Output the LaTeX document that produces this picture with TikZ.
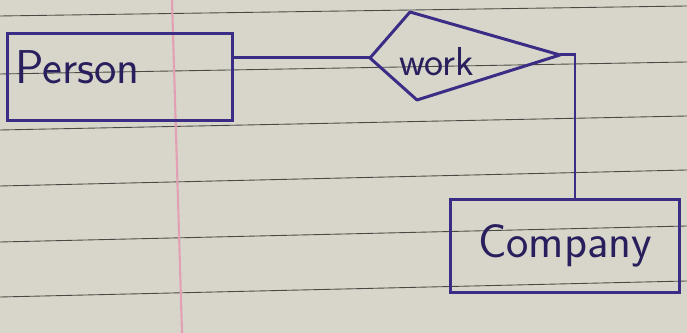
\documentclass[tikz,border=0pt]{standalone}
\usepackage{tikz}
\usetikzlibrary{positioning}
\definecolor{pen}{HTML}{3B2C85}
\definecolor{paper}{HTML}{D8D6CB}
\definecolor{ruleline}{HTML}{4A4A44}
\definecolor{margin}{HTML}{E3A0B4}

\begin{document}
\begin{tikzpicture}[
  x=0.02cm, y=-0.02cm,
  ent/.style={draw=pen, line width=1.7pt, inner sep=0pt, text=pen!70!black,
              font=\sffamily\fontsize{27}{29}\selectfont},
  rel/.style={draw=pen, line width=1.7pt, line join=round},
  link/.style={draw=pen, line width=1.7pt},
  ruled/.style={draw=ruleline, line width=0.5pt},
]
% paper
\fill[paper] (0,0) rectangle (687,333);
\useasboundingbox (0,0) rectangle (687,333);
\foreach \yl/\yr in {16/6,74/62,130/116,186/170,242/226,297/281}
  \draw[ruled] (0,\yl) -- (687,\yr);
\draw[margin, line width=1.2pt] (172,0) -- (182,333);

% entities
\node[ent, minimum width=4.5cm, minimum height=1.74cm, text width=4.2cm,
      text depth=0.4cm, align=left] (person) at (120,77) {Person};
\node[ent, minimum width=4.6cm, minimum height=1.86cm] (company) at (565,246) {Company};

% relationship
\coordinate (wl) at (370,58);
\coordinate (wt) at (410,12);
\coordinate (wr) at (560,55);
\coordinate (wb) at (417,100);
\draw[rel] (wl) -- (wt) -- (wr) -- (wb) -- cycle;
\node[text=pen!70!black, font=\sffamily\fontsize{23}{25}\selectfont] (work) at (437,62) {work};

\draw[link] (wl) -- (wl -| person.east);
\draw[link] (wr) -| ([xshift=0.2cm]company.north);
\end{tikzpicture}
\end{document}
